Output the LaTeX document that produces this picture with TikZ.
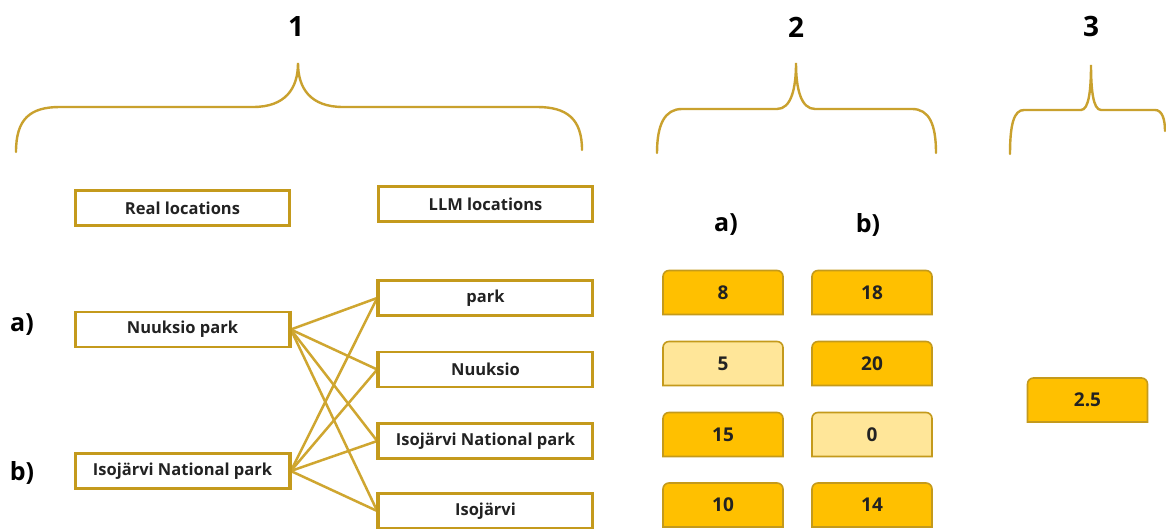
\documentclass[tikz,border=0pt]{standalone}
\usepackage{fontspec}
\setmainfont{Open Sans}
\usetikzlibrary{calc}
\definecolor{bracecol}{HTML}{C9A12E}
\definecolor{boxedge}{HTML}{C49A1C}
\definecolor{valdark}{HTML}{FFC000}
\definecolor{vallight}{HTML}{FFE699}
\definecolor{valedge}{HTML}{C49A1C}
\definecolor{conncol}{HTML}{CFA630}
\definecolor{txt}{HTML}{222222}
\tikzset{
  brace/.style={draw=bracecol, line width=2.4pt, line cap=round},
  locbox/.style={draw=boxedge, line width=2.6pt, fill=white, minimum width=214pt, minimum height=35pt, inner sep=0pt, font=\fontsize{16.5}{19}\selectfont\bfseries, text=txt},
  conn/.style={draw=conncol, line width=2.5pt},
  head/.style={font=\fontsize{28}{32}\selectfont\bfseries, text=black},
  rowlab/.style={font=\fontsize{25}{30}\selectfont\bfseries, text=black},
  valtext/.style={font=\fontsize{19}{22}\selectfont\bfseries, text=txt, inner sep=0pt},
  valshape/.style={draw=valedge, line width=1.6pt},
}
% #1 name, #2 cx, #3 cy, #4 fill, #5 text
\newcommand\valuebox[5]{%
  \path[valshape, fill=#4] ({#2-60},{#3-22}) -- ({#2-60},{#3+16}) arc[start angle=180, end angle=90, radius=6] -- ({#2+54},{#3+22}) arc[start angle=90, end angle=0, radius=6] -- ({#2+60},{#3-22}) -- cycle;
  \node[valtext] (#1) at (#2,#3) {#5};
}
\begin{document}
\begin{tikzpicture}[x=1pt,y=1pt]
\useasboundingbox[fill=white] (0,0) rectangle (1166,529);

% braces
\path[brace] (16,377) .. controls (16,410) and (30,422) .. (60,422) -- (253,422)
  .. controls (285,422) and (298,440) .. (298,466)
  .. controls (298,440) and (311,422) .. (343,422) -- (537,422)
  .. controls (567,422) and (582,410) .. (582,379);
\path[brace] (657,376) .. controls (657,405) and (665,420) .. (682,420) -- (777,420)
  .. controls (791,420) and (796,440) .. (796,466)
  .. controls (796,440) and (801,420) .. (815,420) -- (912,420)
  .. controls (929,420) and (936,405) .. (936,376);
\path[brace] (1010,375) .. controls (1010,405) and (1014,419) .. (1024,419) -- (1081,419)
  .. controls (1089,419) and (1091,440) .. (1091,464)
  .. controls (1091,440) and (1093,419) .. (1101,419) -- (1155,419)
  .. controls (1162,419) and (1165,410) .. (1165,398);

\node[head] (h1) at (296,502) {1};
\node[head] (h2) at (796,502) {2};
\node[head] (h3) at (1091,502) {3};

% location boxes
\node[locbox] (real) at (182.5,321) {Real locations};
\node[locbox] (llm) at (485.5,325) {LLM locations};

\node[rowlab] (la) at (22,204) {a)};
\node[rowlab] (lb) at (22,56) {b)};

\node[locbox] (np) at (182.5,199.5) {Nuuksio park};
\node[locbox] (inp) at (182.5,58) {Isojärvi National park};

\node[locbox] (l1) at (485.5,231) {park};
\node[locbox] (l2) at (485.5,159.5) {Nuuksio};
\node[locbox] (l3) at (485.5,88) {Isojärvi National park};
\node[locbox] (l4) at (485.5,18) {Isojärvi};

\foreach \t in {l1,l2,l3,l4}{
  \draw[conn] (np.east) -- (\t.west);
  \draw[conn] (inp.east) -- (\t.west);
}
% redraw box borders on top of connector ends
\foreach \t in {np,inp}{\draw[boxedge, line width=2.6pt] (\t.north east) -- (\t.south east);}
\foreach \t in {l1,l2,l3,l4}{\draw[boxedge, line width=2.6pt] (\t.north west) -- (\t.south west);}

% column labels
\node[rowlab] (ca) at (726,304) {a)};
\node[rowlab] (cb) at (868,304) {b)};

% value boxes
\valuebox{a1}{723}{236.5}{valdark}{8}
\valuebox{a2}{723}{165.5}{vallight}{5}
\valuebox{a3}{723}{94.5}{valdark}{15}
\valuebox{a4}{723}{24}{valdark}{10}
\valuebox{b1}{872}{236.5}{valdark}{18}
\valuebox{b2}{872}{165.5}{valdark}{20}
\valuebox{b3}{872}{94.5}{vallight}{0}
\valuebox{b4}{872}{24}{valdark}{14}
\valuebox{c1}{1087.5}{129}{valdark}{2.5}
\end{tikzpicture}
\end{document}
